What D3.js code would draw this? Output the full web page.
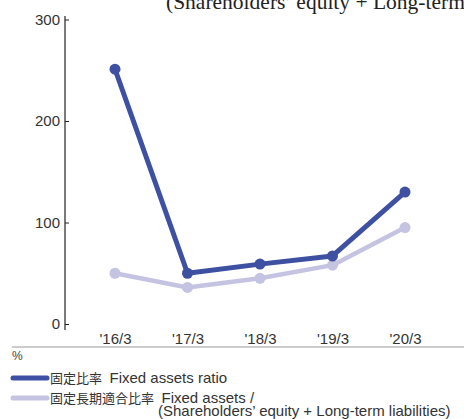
<!DOCTYPE html>
<html>
<head>
<meta charset="utf-8">
<script src="https://cdn.jsdelivr.net/npm/d3@7"></script>
<style>
body{margin:0;background:#fff}
svg{display:block}
.tick text{font-family:"Liberation Sans",Arial,sans-serif;font-size:15px;fill:#333}
</style>
</head>
<body>
<div id="chart"></div>
<script>
var width = 464
var height = 419
var darkColor = "#3e50a1"
var lightColor = "#c4c4e2"

// data
var years = ["'16/3","'17/3","'18/3","'19/3","'20/3"]
var fixedRatio = [251, 50, 59, 67, 130]
var fixedLongTerm = [50, 36, 45, 58, 95]
var yTicks = [0, 100, 200, 300]

var svg = d3.select("#chart").append("svg")
	.attr("width", width)
	.attr("height", height)

var x = d3.scalePoint().domain(years).range([115, 405])
var y = d3.scaleLinear().domain([0, 300]).range([324, 19.5])

// stray caption cut off at the top
svg.append("text")
	.attr("x", 166)
	.attr("y", 9)
	.style("font-family", "'Liberation Serif','Times New Roman',serif")
	.style("font-size", "21.5px")
	.style("fill", "#222")
	.text("(Shareholders\u2019 equity + Long-term")

// y axis
var yAxis = d3.axisLeft(y).tickValues(yTicks).tickSize(-4).tickSizeOuter(0).tickPadding(5)
var gy = svg.append("g")
	.attr("transform", "translate(65,0)")
	.call(yAxis)
gy.select(".domain").remove()
gy.selectAll(".tick line").attr("stroke", "#222")
gy.append("line")
	.attr("x1", 0).attr("x2", 0)
	.attr("y1", y(303.5)).attr("y2", y(-6))
	.attr("stroke", "#222")
	.attr("stroke-width", 1.2)

// x axis labels
var xAxis = d3.axisBottom(x).tickSize(0).tickPadding(3)
var gx = svg.append("g")
	.attr("transform", "translate(0,330)")
	.call(xAxis)
gx.select(".domain").remove()

// baseline rule under the axis labels
svg.append("line")
	.attr("x1", 12).attr("x2", width)
	.attr("y1", 347).attr("y2", 347)
	.attr("stroke", "#bbb")
	.attr("stroke-width", 1.5)

svg.append("text")
	.attr("x", 12).attr("y", 360)
	.style("font-family", "'Liberation Sans',Arial,sans-serif")
	.style("font-size", "12px")
	.style("fill", "#444")
	.text("%")

function drawSeries(values, color, w, r){
	var line = d3.line()
		.x(function(d, i){ return x(years[i]) })
		.y(function(d){ return y(d) })
	svg.append("path")
		.datum(values)
		.attr("d", line)
		.attr("fill", "none")
		.attr("stroke", color)
		.attr("stroke-width", w)
		.attr("stroke-linejoin", "round")
	svg.selectAll(null)
		.data(values)
		.enter()
		.append("circle")
		.attr("cx", function(d, i){ return x(years[i]) })
		.attr("cy", function(d){ return y(d) })
		.attr("r", r)
		.attr("fill", color)
}
drawSeries(fixedLongTerm, lightColor, 4.5, 5.5)
drawSeries(fixedRatio, darkColor, 5, 5.5)

// legend
var legendFont = "'Liberation Sans',Arial,'Noto Sans CJK JP',sans-serif"
function legendRow(yPos, color, jp, en){
	svg.append("line")
		.attr("x1", 13).attr("x2", 47)
		.attr("y1", yPos).attr("y2", yPos)
		.attr("stroke", color)
		.attr("stroke-width", 5)
		.attr("stroke-linecap", "round")
	var t = svg.append("text")
		.attr("x", 50).attr("y", yPos + 4.5)
		.style("font-family", legendFont)
		.style("fill", "#333")
	t.append("tspan").style("font-family", "'Noto Sans CJK JP',sans-serif").style("font-size", "13px").text(jp)
	t.append("tspan").style("font-size", "15px").text(en)
	return t
}
legendRow(378, darkColor, "固定比率", "\u2002Fixed assets ratio")
legendRow(398, lightColor, "固定長期適合比率", "\u2002Fixed assets /")
svg.append("text")
	.attr("x", 158).attr("y", 416)
	.style("font-family", legendFont)
	.style("font-size", "15px")
	.style("fill", "#333")
	.text("(Shareholders\u2019 equity + Long-term liabilities)")
</script>
</body>
</html>
